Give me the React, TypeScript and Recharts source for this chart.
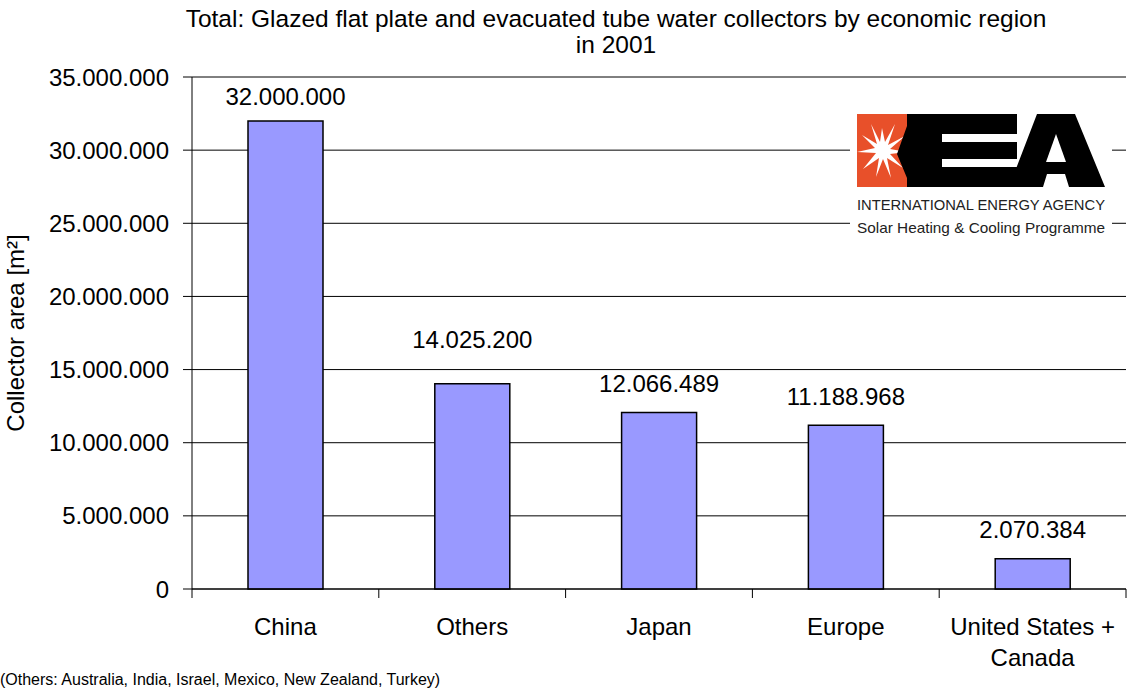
import React from 'react';
import { BarChart, Bar, XAxis, YAxis, CartesianGrid, LabelList } from 'recharts';

const regions = ['China', 'Others', 'Japan', 'Europe', 'United States + Canada'];
const collectorArea = [32000000, 14025200, 12066489, 11188968, 2070384];
const yTicks = [0, 5000000, 10000000, 15000000, 20000000, 25000000, 30000000, 35000000];

const data = regions.map((r, i) => ({ region: r, area: collectorArea[i] }));

const W = 1127;
const H = 693;
const PLOT_LEFT = 192;
const PLOT_RIGHT = 1126;
const BAND = (PLOT_RIGHT - PLOT_LEFT) / regions.length;
const FONT = '"Liberation Sans", Arial, sans-serif';
// the "Others" label sits higher in the original (dragged by hand in Excel)
const LABEL_GAP = [16, 36, 20, 20, 21];

const fmt = (v: number) => String(Math.round(v)).replace(/\B(?=(\d{3})+(?!\d))/g, '.');

const XTick = (props: any) => {
    const { x, y, payload, index } = props;
    const words: string[] = payload.value === 'United States + Canada' ? ['United States +', 'Canada'] : [payload.value];
    const isLast = index === regions.length - 1;
    return (
        <g>
            <line x1={x - BAND / 2} x2={x - BAND / 2} y1={y} y2={y + 9} stroke="#000" />
            {isLast && <line x1={x + BAND / 2} x2={x + BAND / 2} y1={y} y2={y + 9} stroke="#000" />}
            {words.map((w, i) => (
                <text key={i} x={x} y={y + 46 + i * 31} textAnchor="middle" fontSize={24} fill="#000" fontFamily={FONT}>{w}</text>
            ))}
        </g>
    );
};

const BarLabel = (props: any) => {
    const { x, y, width, value, index } = props;
    return (
        <text x={x + width / 2} y={y - LABEL_GAP[index]} textAnchor="middle" fontSize={24} fill="#000" fontFamily={FONT}>{fmt(value)}</text>
    );
};

const Logo = () => (
    <svg width={297} height={150} style={{ position: 'absolute', left: 830, top: 101, overflow: 'visible' }}>
        <rect x={20} y={4} width={262} height={142} fill="#fff" />
        <g transform="translate(27,13)">
            <rect x={0} y={0} width={50} height={73} fill="#e8502a" />
            <polygon
                points="25,14 28,28 38,10 31,31 48,22 33,35 50,38 33,40 46,54 30,44 34,64 26,45 19,63 22,44 6,55 19,39 0,38 18,34 5,21 20,30 14,10 23,28"
                fill="#fff"
            />
            <polygon points="50,0 160,0 160,20 85,20 85,28 160,28 160,45 85,45 85,53 160,53 160,73 50,73 50,64 40,40 50,12" fill="#000" />
            <polygon points="180,0 218,0 248,73 212,73 208,60 190,60 186,73 152,73" fill="#000" />
            <polygon points="199,20 209,48 189,48" fill="#fff" />
            <text x={0} y={96} fontSize={15} fontFamily='"Liberation Sans Narrow", "Liberation Sans", Arial' textLength={248} lengthAdjust="spacingAndGlyphs" fill="#222">INTERNATIONAL ENERGY AGENCY</text>
            <text x={0} y={119} fontSize={15} fontFamily='"Liberation Sans Narrow", "Liberation Sans", Arial' textLength={248} lengthAdjust="spacingAndGlyphs" fill="#222">Solar Heating &amp; Cooling Programme</text>
        </g>
    </svg>
);

export default function App() {
    return (
        <div style={{ position: 'absolute', left: 0, top: 0, width: W, height: H, background: '#fff', fontFamily: FONT }}>
            <BarChart width={W} height={H} data={data} margin={{ top: 77, right: W - PLOT_RIGHT, left: 0, bottom: 0 }}>
                <CartesianGrid vertical={false} stroke="#000" strokeWidth={1} />
                <XAxis
                    dataKey="region"
                    height={104}
                    axisLine={{ stroke: '#000' }}
                    tickLine={false}
                    tickSize={0}
                    tickMargin={0}
                    interval={0}
                    tick={<XTick />}
                />
                <YAxis
                    width={PLOT_LEFT}
                    domain={[0, 35000000]}
                    ticks={yTicks}
                    interval={0}
                    tickFormatter={fmt}
                    axisLine={{ stroke: '#000' }}
                    tickLine={{ stroke: '#000' }}
                    tickSize={9}
                    tickMargin={14}
                    tick={{ fontSize: 24, fill: '#000', fontFamily: FONT }}
                    label={{ value: 'Collector area [m²]', angle: -90, position: 'insideLeft', dx: 10, style: { fontSize: 24, fill: '#000', fontFamily: FONT, textAnchor: 'middle' } }}
                />
                <Bar dataKey="area" fill="#9999ff" stroke="#000" strokeWidth={1.5} barSize={75} isAnimationActive={false}>
                    <LabelList dataKey="area" content={<BarLabel />} />
                </Bar>
            </BarChart>
            <div style={{ position: 'absolute', left: 0, top: 6, width: 1232, textAlign: 'center', fontSize: 24.5, lineHeight: '26px', color: '#000' }}>
                Total: Glazed flat plate and evacuated tube water collectors by economic region<br />in 2001
            </div>
            <Logo />
            <div style={{ position: 'absolute', left: 0, top: 671, fontSize: 16, whiteSpace: 'nowrap', color: '#000' }}>
                (Others: Australia, India, Israel, Mexico, New Zealand, Turkey)
            </div>
        </div>
    );
}
